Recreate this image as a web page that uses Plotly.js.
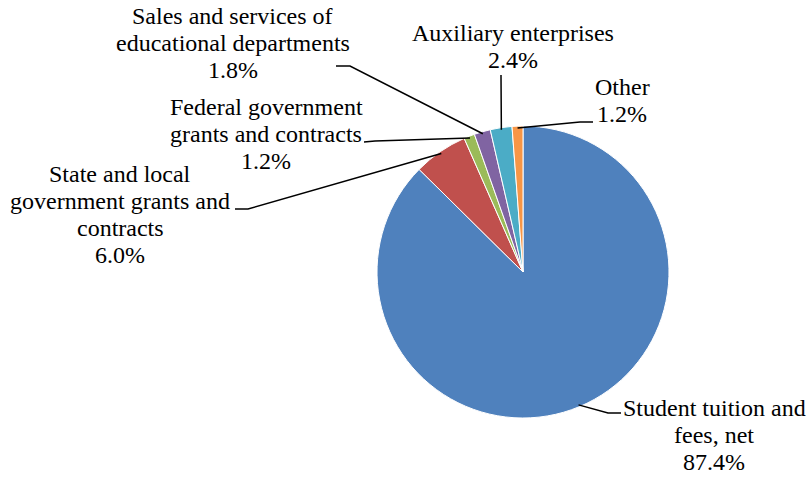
<!DOCTYPE html>
<html>
<head>
<meta charset="utf-8">
<script src="https://cdn.plot.ly/plotly-3.0.1.min.js"></script>
<style>html,body{margin:0;padding:0;background:#fff;}#chart{width:808px;height:478px;}</style>
</head>
<body>
<div id="chart"></div>
<script>
const categories = [
  "Student tuition and\nfees, net",
  "State and local\ngovernment grants and\ncontracts",
  "Federal government\ngrants and contracts",
  "Sales and services of\neducational departments",
  "Auxiliary enterprises",
  "Other"
];
const shares = [87.4, 6.0, 1.2, 1.8, 2.4, 1.2];
const colors = ["#4F81BD", "#C0504D", "#9BBB59", "#8064A2", "#4BACC6", "#F79646"];

const W = 808, H = 478;
const CX = 523, CY = 272, R = 146;
const FONT = 'Liberation Serif';
const FSIZE = 24, LINE = 27;
// label layout: text center x, first baseline y, leader start/kink points (pixels)
const labelPos = [
  {x: 714, b: 417, start: [621, 413], kink: [608, 413]},
  {x: 120, b: 183, start: [235, 209], kink: [248, 209]},
  {x: 266, b: 116, start: [364, 142], kink: [375, 141]},
  {x: 233, b: 25,  start: [336, 66],  kink: [350, 66]},
  {x: 513, b: 42,  start: [501, 75],  kink: [501, 76]},
  {x: 622, b: 96,  start: [593, 122], kink: [580, 122]}
];
const px = x => x / W;
const py = y => 1 - y / H;

const total = shares.reduce((a, b) => a + b, 0);
let cum = 0;
const annotations = [], shapes = [];
shares.forEach((v, i) => {
  const mid = (cum + v / 2) / total * 2 * Math.PI;
  cum += v;
  const ex = CX + (R - 2) * Math.sin(mid);
  const ey = CY - (R - 2) * Math.cos(mid);
  const L = labelPos[i];
  const lines = categories[i].split('\n').concat([v.toFixed(1) + '%']);
  lines.forEach((t, k) => {
    annotations.push({
      x: px(L.x), y: py(L.b + k * LINE + 6), xref: 'paper', yref: 'paper',
      xanchor: 'center', yanchor: 'bottom', showarrow: false,
      text: t,
      font: {family: FONT, size: FSIZE, color: '#000'}
    });
  });
  shapes.push({
    type: 'path', xref: 'paper', yref: 'paper',
    path: `M ${px(L.start[0])} ${py(L.start[1])} L ${px(L.kink[0])} ${py(L.kink[1])} L ${px(ex)} ${py(ey)}`,
    line: {color: '#000', width: 1.5}
  });
});

const data = [{
  type: 'pie',
  labels: categories.map(c => c.replace(/\n/g, ' ')),
  values: shares,
  sort: false,
  direction: 'clockwise',
  rotation: 0,
  textinfo: 'none',
  marker: {colors: colors, line: {color: '#fff', width: 1}},
  domain: {x: [px(CX - R), px(CX + R)], y: [py(CY + R), py(CY - R)]},
  showlegend: false
}];

const layout = {
  width: W, height: H,
  margin: {l: 0, r: 0, t: 0, b: 0},
  paper_bgcolor: '#fff',
  showlegend: false,
  annotations: annotations,
  shapes: shapes
};
Plotly.newPlot('chart', data, layout, {displayModeBar: false, staticPlot: true});
</script>
</body>
</html>
